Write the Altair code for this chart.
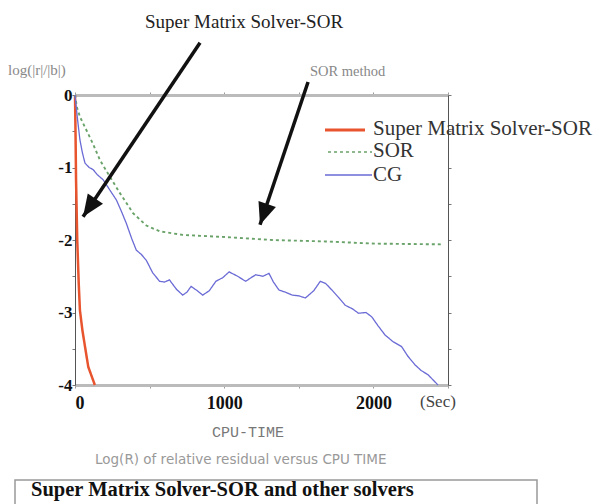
import altair as alt
import pandas as pd

# --- data ---
series_names = ["Super Matrix Solver-SOR", "SOR", "CG"]
series_colors = ["#e8542e", "#6aa36a", "#6b6bd6"]
series_dash = [[1, 0], [3, 3], [1, 0]]
series_width = [2.5, 1.3, 1.2]

smx_t = [0, 4, 7, 15, 25, 33, 50, 67, 89, 133]
smx_v = [0, -0.6, -1.17, -2.0, -2.6, -2.97, -3.25, -3.47, -3.75, -4.0]

sor_t = [0, 13, 33, 80, 122, 168, 211, 300, 389, 478, 567, 722, 1011, 1322, 1678, 2011, 2456]
sor_v = [0, -0.17, -0.3, -0.5, -0.68, -0.9, -1.05, -1.35, -1.63, -1.8, -1.88, -1.93, -1.96, -2.0, -2.02, -2.05, -2.06]

cg_t = [0, 15, 33, 50, 67, 95, 122, 150, 189, 230, 278, 310, 344, 380, 411, 445, 478, 520, 567, 600, 633,
        680, 722, 750, 778, 820, 856, 900, 944, 990, 1033, 1090, 1144, 1180, 1211, 1260, 1300, 1330, 1367,
        1410, 1456, 1500, 1544, 1600, 1644, 1680, 1722, 1770, 1811, 1860, 1900, 1950, 1989, 2030, 2078,
        2130, 2189, 2230, 2278, 2320, 2367, 2400, 2433]
cg_v = [0, -0.3, -0.62, -0.8, -0.94, -1.0, -1.03, -1.1, -1.17, -1.3, -1.45, -1.6, -1.77, -1.98, -2.14,
        -2.2, -2.28, -2.45, -2.57, -2.58, -2.55, -2.68, -2.76, -2.72, -2.64, -2.7, -2.76, -2.7, -2.57,
        -2.52, -2.44, -2.5, -2.57, -2.52, -2.48, -2.5, -2.46, -2.58, -2.69, -2.72, -2.76, -2.77, -2.80,
        -2.7, -2.57, -2.6, -2.69, -2.8, -2.90, -2.95, -3.01, -3.0, -3.06, -3.18, -3.31, -3.4, -3.47,
        -3.6, -3.72, -3.8, -3.86, -3.93, -4.0]

x_ticks = [0, 500, 1000, 1500, 2000, 2500]
y_ticks = [-4, -3.5, -3, -2.5, -2, -1.5, -1, -0.5, 0]

# arrows (data coordinates: start -> tip)
arrow_t = [838, 1562]
arrow_v = [0.72, 0.18]
arrow_t2 = [54, 1240]
arrow_v2 = [-1.68, -1.79]
arrow_angle = [214, 199]

rows = []
for name, ts, vs in [(series_names[0], smx_t, smx_v), (series_names[1], sor_t, sor_v), (series_names[2], cg_t, cg_v)]:
    for t, v in zip(ts, vs):
        rows.append({"series": name, "t": t, "v": v})
df = pd.DataFrame(rows)
arrows = pd.DataFrame({"t": arrow_t, "v": arrow_v, "t2": arrow_t2, "v2": arrow_v2, "angle": arrow_angle})

SERIF = "Liberation Serif"
xs = alt.Scale(domain=[0, 2500], nice=False, zero=False)
ys = alt.Scale(domain=[-4, 0], nice=False, zero=False)

lines = alt.Chart(df).mark_line(clip=False).encode(
    x=alt.X("t:Q", scale=xs, axis=alt.Axis(
        orient="bottom", values=x_ticks, title=None, grid=False, domainColor="#bbbbbb", domainWidth=3,
        tickColor="#999", tickSize=3, labelFont=SERIF, labelFontSize=18, labelFontWeight="bold",
        labelColor="#111", labelPadding=6,
        labelExpr="(datum.value == 0 || datum.value == 1000 || datum.value == 2000) ? '' + datum.value : ''")),
    y=alt.Y("v:Q", scale=ys, axis=alt.Axis(
        orient="left", values=y_ticks, title=None, grid=False, domainColor="#555", domainWidth=1,
        tickColor="#777", tickSize=3, labelFont=SERIF, labelFontSize=17, labelFontWeight="bold",
        labelColor="#111", labelPadding=0,
        labelExpr="datum.value % 1 == 0 ? '' + datum.value : ''")),
    color=alt.Color("series:N", scale=alt.Scale(domain=series_names, range=series_colors), legend=None),
    strokeDash=alt.StrokeDash("series:N", scale=alt.Scale(domain=series_names, range=series_dash), legend=None),
    strokeWidth=alt.StrokeWidth("series:N", scale=alt.Scale(domain=series_names, range=series_width), legend=None),
)

frame = alt.Chart(df).mark_line(opacity=0).encode(
    x=alt.X("t:Q", scale=xs, axis=alt.Axis(
        orient="top", values=x_ticks, title=None, grid=False, labels=False, domainColor="#bbbbbb",
        domainWidth=3, tickColor="#999", tickSize=3)),
    y=alt.Y("v:Q", scale=ys, axis=alt.Axis(
        orient="right", values=y_ticks, title=None, grid=False, labels=False, domainColor="#555",
        domainWidth=1, tickColor="#777", tickSize=3)),
    detail="series:N",
)

arrow_lines = alt.Chart(arrows).mark_rule(color="#111", strokeWidth=3.5, clip=False).encode(
    x=alt.X("t:Q", scale=xs, axis=None), y=alt.Y("v:Q", scale=ys, axis=None),
    x2="t2:Q", y2="v2:Q",
)
arrow_heads = alt.Chart(arrows).mark_point(
    shape="M0,0 L-0.75,1.8 L0.75,1.8 Z", filled=True, color="#111", opacity=1, size=600, clip=False
).encode(
    x=alt.X("t2:Q", scale=xs, axis=None), y=alt.Y("v2:Q", scale=ys, axis=None),
    angle=alt.Angle("angle:Q", scale=None),
)

def label(text, x, y, size, color="#222", font=SERIF, weight="normal", align="left"):
    return alt.Chart(pd.DataFrame({"s": [text]})).mark_text(
        font=font, fontSize=size, color=color, fontWeight=weight, align=align, baseline="middle"
    ).encode(x=alt.value(x), y=alt.value(y), text="s:N")

# hand-made legend (tight rows as in the reference)
legend_rows = [(250, 290, 35, 34), (253, 297, 57, 56), (250, 297, 80, 80)]
legend_layers = []
for (x1, x2, yl, yt), name, col, dash, w in zip(legend_rows, series_names, series_colors, series_dash, series_width):
    legend_layers.append(
        alt.Chart(pd.DataFrame({"s": [name]})).mark_rule(color=col, strokeDash=dash, strokeWidth=w + 0.3).encode(
            x=alt.value(x1), x2=alt.value(x2), y=alt.value(yl))
    )
    legend_layers.append(label(name, 298, yt, 21, color="#333"))

texts = [
    label("Super Matrix Solver-SOR", 70, -73, 19, color="#222"),
    label("SOR method", 235, -23, 14.5, color="#888"),
    label("log(|r|/|b|)", -67, -25, 15, color="#888"),
    label("(Sec)", 345, 307, 17, color="#444"),
    label("CPU-TIME", 137, 337, 15, color="#777", font="Liberation Mono"),
    label("Log(R) of relative residual versus CPU TIME", 20, 365, 13.5, color="#999", font="DejaVu Sans"),
    label("Super Matrix Solver-SOR and other solvers", -44, 395, 20.5, color="#111", weight="bold"),
]

box = alt.Chart(pd.DataFrame({"a": [0]})).mark_rect(fill="white", stroke="#999", strokeWidth=1.5).encode(
    x=alt.value(-60), x2=alt.value(462), y=alt.value(385), y2=alt.value(440)
)

chart = alt.layer(lines, frame, arrow_lines, arrow_heads, box, *legend_layers, *texts).resolve_axis(
    x="independent", y="independent"
).properties(
    width=373, height=290,
    autosize=alt.AutoSizeParams(type="none"),
    padding={"left": 67, "top": 87, "right": 151, "bottom": 130},
).configure_view(stroke=None)

chart.save("out.html", embed_options={"renderer": "svg", "actions": False})
